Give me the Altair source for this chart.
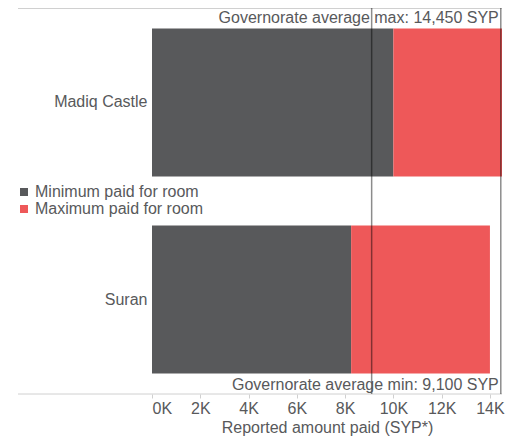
import altair as alt
import pandas as pd

locations = ["Madiq Castle", "Suran"]
min_paid = [10000, 8250]
max_paid = [14800, 14000]
series_names = ["Minimum paid for room", "Maximum paid for room"]
series_colors = ["#58595b", "#ee5859"]
gov_avg_min = 9100
gov_avg_max = 14450
tick_values = [0, 2000, 4000, 6000, 8000, 10000, 12000, 14000]

W = 350
H = 386
FONT = "Liberation Sans"
TXT = "#58595b"
FS = 16

rows = []
for loc, mn in zip(locations, min_paid):
    rows.append({"Location": loc, "Series": series_names[0], "Start": 0, "End": mn})
for loc, mn, mx in zip(locations, min_paid, max_paid):
    rows.append({"Location": loc, "Series": series_names[1], "Start": mn, "End": mx})
bars_df = pd.DataFrame(rows)

x_scale = alt.Scale(domain=[0, 14500], nice=False, zero=True)

bars = alt.Chart(bars_df).mark_bar(clip=True).encode(
    x=alt.X("Start:Q", scale=x_scale,
            axis=alt.Axis(values=tick_values, labelExpr="datum.value/1000 + 'K'",
                          title="Reported amount paid (SYP*)", domain=False, grid=False,
                          tickColor="#d0d0d0", tickSize=4, labelPadding=2,
                          labelFontSize=FS, titleFontSize=FS, titleFontWeight="normal",
                          labelColor=TXT, titleColor=TXT, titlePadding=3,
                          labelFont=FONT, titleFont=FONT)),
    x2="End:Q",
    y=alt.Y("Location:N", sort=locations,
            scale=alt.Scale(paddingInner=0.2487, paddingOuter=0.104),
            axis=alt.Axis(title=None, ticks=False, domain=False, labelFontSize=FS,
                          labelColor=TXT, labelPadding=5, labelFont=FONT)),
    color=alt.Color("Series:N", scale=alt.Scale(domain=series_names, range=series_colors),
                    legend=alt.Legend(title=None, orient="none", legendX=-136, legendY=176,
                                      symbolType="square", symbolSize=64, labelFontSize=FS,
                                      labelColor=TXT, labelFont=FONT, padding=0, labelLimit=300,
                                      rowPadding=1, labelOffset=3, symbolStrokeWidth=0,
                                      symbolOpacity=1)),
)

avg_df = pd.DataFrame({
    "Value": [gov_avg_max, gov_avg_min],
    "Label": [f"Governorate average max: {gov_avg_max:,} SYP",
              f"Governorate average min: {gov_avg_min:,} SYP"],
    "anchor": [gov_avg_max, gov_avg_max],
})

rules = alt.Chart(avg_df).mark_rule(color="#000000", opacity=0.45, strokeWidth=1.5).encode(
    x=alt.X("Value:Q", scale=x_scale),
    y=alt.value(0),
    y2=alt.value(H),
)

text_max = alt.Chart(avg_df.iloc[[0]]).mark_text(
    align="right", baseline="middle", dx=-2, fontSize=FS, font=FONT, color=TXT
).encode(x=alt.X("anchor:Q", scale=x_scale), y=alt.value(10), text="Label:N")

text_min = alt.Chart(avg_df.iloc[[1]]).mark_text(
    align="right", baseline="middle", dx=-2, fontSize=FS, font=FONT, color=TXT
).encode(x=alt.X("anchor:Q", scale=x_scale), y=alt.value(377), text="Label:N")

frame_df = pd.DataFrame({"edge": ["top", "bottom"]})
top_line = alt.Chart(frame_df.iloc[[0]]).mark_rule(color="#d0d0d0", strokeWidth=1).encode(
    x=alt.value(-134), x2=alt.value(W), y=alt.value(0.5))
bottom_line = alt.Chart(frame_df.iloc[[1]]).mark_rule(color="#d0d0d0", strokeWidth=1).encode(
    x=alt.value(-134), x2=alt.value(W), y=alt.value(H))

chart = alt.layer(top_line, bottom_line, bars, rules, text_max, text_min).properties(
    width=W, height=H,
    autosize=alt.AutoSizeParams(type="none"),
    padding={"left": 144, "top": 0, "right": 3, "bottom": 42},
).configure_view(stroke=None).configure_axis(labelFont=FONT, titleFont=FONT)

chart.save("out.html", embed_options={"renderer": "svg", "actions": False})
